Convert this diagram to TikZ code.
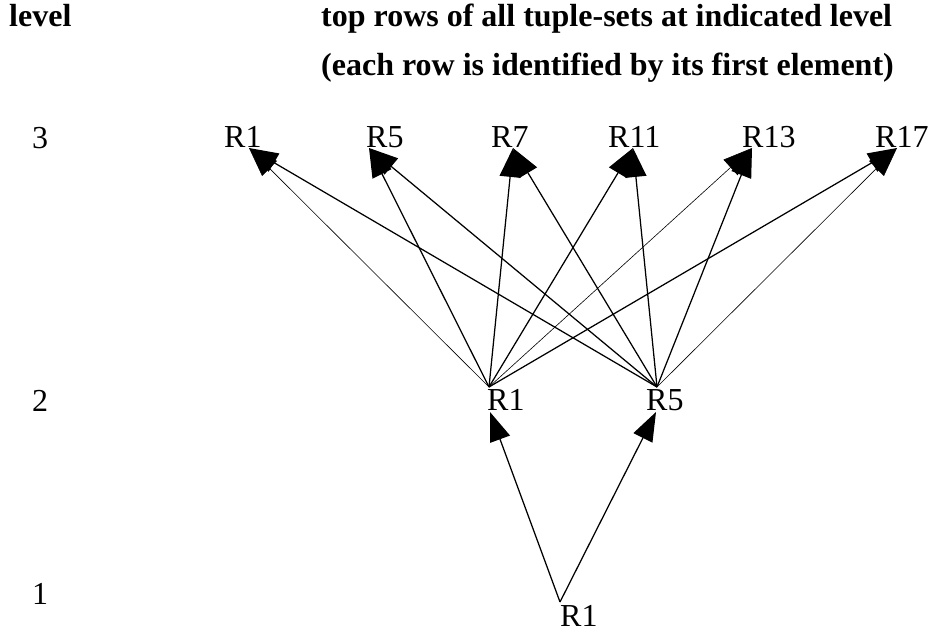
\documentclass[tikz,border=0pt]{standalone}
\usepackage{fontspec}
\setmainfont{Liberation Serif}
\usetikzlibrary{arrows.meta}
\begin{document}
\begin{tikzpicture}[x=1pt,y=-1pt,
  lbl/.style={anchor=base west,inner sep=0pt,font=\fontsize{32}{38}\selectfont},
  lvl/.style={anchor=base,inner sep=0pt,font=\fontsize{32}{38}\selectfont},
  hdr/.style={anchor=base west,inner sep=0pt,font=\fontsize{32}{38}\selectfont\bfseries},
  edge/.style={-{Triangle[length=29pt,width=21pt]},line width=1.25pt},
  thinedge/.style={-{Triangle[length=29pt,width=21pt]},line width=0.6pt}]
\useasboundingbox (0,0) rectangle (928,634);
% headers
\node[hdr] (hlevel) at (9,27) {level};
\node[hdr] (h1) at (321,27) {top rows of all tuple-sets at indicated level};
\node[hdr] (h2) at (321,75) {(each row is identified by its first element)};
% level numbers
\node[lvl] (l3) at (40,148) {3};
\node[lvl] (l2) at (40,411) {2};
\node[lvl] (l1) at (40,604) {1};
% labels
\node[lbl] (r31) at (224,147) {R1};
\node[lbl] (r35) at (366,147) {R5};
\node[lbl] (r37) at (491,147) {R7};
\node[lbl] (r311) at (608,147) {R11};
\node[lbl] (r313) at (742,147) {R13};
\node[lbl] (r317) at (875,147) {R17};
\node[lbl] (r21) at (487,410) {R1};
\node[lbl] (r25) at (646,410) {R5};
\node[lbl] (r11) at (560,626) {R1};
% connector points
\coordinate (a1) at (249,148);
\coordinate (a5) at (369,148);
\coordinate (a7) at (513,148);
\coordinate (a11) at (633,148);
\coordinate (a13) at (752,148);
\coordinate (a17) at (897,148);
\coordinate (s1) at (489,387);
\coordinate (s5) at (657,387);
\coordinate (b1) at (490,412);
\coordinate (b5) at (656,412);
\coordinate (c1) at (560,602);
% level 1 -> 2
\draw[edge] (c1) -- (b1);
\draw[edge] (c1) -- (b5);
% level 2 -> 3
\draw[thinedge] (s1) -- (a1);
\draw[edge] (s1) -- (a5);
\draw[edge] (s1) -- (a7);
\draw[edge] (s1) -- (a11);
\draw[thinedge] (s1) -- (a13);
\draw[edge] (s1) -- (a17);
\draw[edge] (s5) -- (a1);
\draw[edge] (s5) -- (a5);
\draw[edge] (s5) -- (a7);
\draw[edge] (s5) -- (a11);
\draw[edge] (s5) -- (a13);
\draw[thinedge] (s5) -- (a17);
\end{tikzpicture}
\end{document}
